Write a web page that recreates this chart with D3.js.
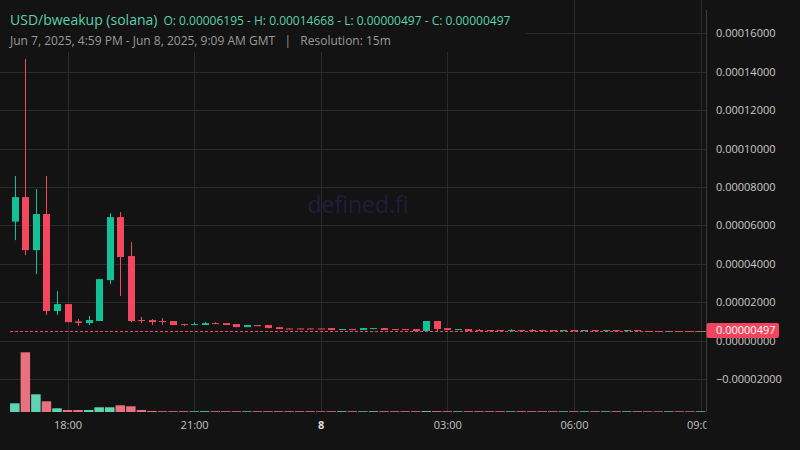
<!DOCTYPE html>
<html>
<head>
<meta charset="utf-8">
<script src="https://cdn.jsdelivr.net/npm/d3@7"></script>
<style>
  html, body { margin: 0; padding: 0; background: #131313; }
  svg { display: block; font-family: "Open Sans", "Noto Sans", sans-serif; }
</style>
</head>
<body>
<svg id="chart" width="800" height="450"></svg>
<script>
// ---------- DATA (prices in units of 1e-5 USD) ----------
const startTime = Date.UTC(2025, 5, 7, 16, 45);   // first 15m bar
const barMinutes = 15;

const openE5 = [6.195, 7.47, 4.71, 6.59, 1.54, 1.90, 1.00, 0.91, 1.02, 3.15,
  6.43, 4.40, 1.07, 1.07, 1.02, 1.02, 0.86, 0.81, 0.81, 0.91,
  0.91, 0.86, 0.70, 0.81, 0.81, 0.70, 0.63, 0.63, 0.63, 0.63,
  0.65, 0.55, 0.60, 0.55, 0.60, 0.65, 0.60, 0.60, 0.60, 0.50,
  1.02, 0.65, 0.55, 0.60, 0.55, 0.55, 0.55, 0.50, 0.55, 0.55,
  0.55, 0.55, 0.50, 0.55, 0.50, 0.55, 0.50, 0.55, 0.50, 0.55,
  0.499, 0.499, 0.497, 0.499, 0.499, 0.497];
const highE5 = [8.57, 14.668, 7.89, 8.57, 2.58, 1.90, 1.12, 1.28, 3.20, 6.64,
  6.69, 5.13, 1.23, 1.12, 1.17, 1.02, 0.86, 0.96, 0.96, 0.96,
  0.91, 0.86, 0.81, 0.81, 0.81, 0.70, 0.63, 0.63, 0.63, 0.63,
  0.65, 0.60, 0.60, 0.65, 0.65, 0.65, 0.60, 0.60, 0.60, 1.02,
  1.02, 0.65, 0.60, 0.60, 0.60, 0.55, 0.55, 0.58, 0.55, 0.60,
  0.55, 0.55, 0.55, 0.55, 0.55, 0.55, 0.55, 0.55, 0.55, 0.55,
  0.499, 0.499, 0.499, 0.499, 0.499, 0.499];
const lowE5 = [5.23, 4.45, 3.46, 1.33, 1.33, 0.96, 0.77, 0.81, 1.02, 2.94,
  2.32, 0.96, 0.91, 0.81, 0.81, 0.81, 0.75, 0.81, 0.81, 0.86,
  0.81, 0.70, 0.70, 0.75, 0.65, 0.60, 0.60, 0.60, 0.60, 0.60,
  0.55, 0.55, 0.55, 0.55, 0.60, 0.55, 0.55, 0.55, 0.50, 0.50,
  0.50, 0.55, 0.55, 0.50, 0.50, 0.50, 0.50, 0.50, 0.50, 0.50,
  0.50, 0.50, 0.50, 0.50, 0.50, 0.50, 0.50, 0.50, 0.50, 0.497,
  0.497, 0.497, 0.497, 0.497, 0.497, 0.497];
const closeE5 = [7.47, 4.71, 6.59, 1.54, 1.90, 0.96, 0.92, 1.07, 3.20, 6.43,
  4.35, 1.02, 1.04, 0.96, 1.00, 0.81, 0.81, 0.86, 0.91, 0.86,
  0.81, 0.70, 0.81, 0.75, 0.65, 0.60, 0.60, 0.60, 0.60, 0.60,
  0.55, 0.60, 0.55, 0.65, 0.65, 0.55, 0.55, 0.55, 0.50, 1.02,
  0.60, 0.55, 0.60, 0.50, 0.50, 0.50, 0.50, 0.55, 0.50, 0.50,
  0.50, 0.50, 0.55, 0.50, 0.55, 0.50, 0.55, 0.50, 0.55, 0.497,
  0.497, 0.497, 0.499, 0.497, 0.497, 0.499];
const volume = [870, 5970, 1770, 1070, 370, 200, 200, 200, 470, 470,
  670, 570, 200, 100, 80, 80, 80, 70, 80, 80,
  80, 80, 70, 80, 80, 80, 80, 80, 80, 70,
  80, 80, 80, 70, 80, 80, 80, 80, 80, 90,
  90, 80, 70, 80, 80, 80, 80, 70, 80, 80,
  80, 80, 70, 80, 70, 80, 70, 80, 70, 80,
  70, 70, 70, 70, 70, 70];

const yTickValuesE5 = [-2, 0, 2, 4, 6, 8, 10, 12, 14, 16];
const xTickTimes = [Date.UTC(2025,5,7,18), Date.UTC(2025,5,7,21), Date.UTC(2025,5,8,0),
                    Date.UTC(2025,5,8,3), Date.UTC(2025,5,8,6), Date.UTC(2025,5,8,9)];
const xTickLabels = ["18:00", "21:00", "8", "03:00", "06:00", "09:00"];
const lastPriceE5 = 0.497;

const titleMain = "USD/bweakup (solana)";
const titleOHLC = "O: 0.00006195 - H: 0.00014668 - L: 0.00000497 - C: 0.00000497";
const titleSub = "Jun 7, 2025, 4:59 PM - Jun 8, 2025, 9:09 AM GMT   |   Resolution: 15m";
const watermark = "defined.fi";

// ---------- LAYOUT ----------
const W = 800, H = 450;
const plotRight = 706.5, plotBottom = 412;
const UP = "#12c197", DOWN = "#f2475e";
const UPV = "#5ed4b4", DOWNV = "#e9707f";
const GRID = "#2b2b2b";

const bars = openE5.map((o, i) => ({
  t: new Date(startTime + i * barMinutes * 60000),
  o, h: highE5[i], l: lowE5[i], c: closeE5[i], v: volume[i]
}));

const svg = d3.select("#chart");
svg.append("rect").attr("width", W).attr("height", H).attr("fill", "#131313");

const x = d3.scaleUtc()
  .domain([bars[0].t, bars[bars.length - 1].t])
  .range([14.8, 700.5]);
const y = d3.scaleLinear().domain([-2, 16]).range([379.0, 33.3]);
const yv = d3.scaleLinear().domain([0, d3.max(volume)]).range([plotBottom, 352.3]);

// gridlines
const grid = svg.append("g");
grid.selectAll("line.h").data(yTickValuesE5).join("line")
  .attr("x1", 0).attr("x2", plotRight).attr("y1", d => Math.round(y(d)) + 0.5).attr("y2", d => Math.round(y(d)) + 0.5)
  .attr("stroke", GRID).attr("stroke-width", 1);
grid.selectAll("line.v").data(xTickTimes).join("line")
  .attr("x1", d => Math.round(x(d)) + 0.5).attr("x2", d => Math.round(x(d)) + 0.5)
  .attr("y1", 0).attr("y2", plotBottom)
  .attr("stroke", GRID).attr("stroke-width", 1);

// watermark
svg.append("text").attr("x", 358).attr("y", 213).attr("text-anchor", "middle")
  .attr("font-size", 23).attr("fill", "#1f1e3c").text(watermark);

// volume
svg.append("g").selectAll("rect").data(bars).join("rect")
  .attr("x", d => x(d.t) - 4.75).attr("width", 9.5)
  .attr("y", d => yv(d.v)).attr("height", d => plotBottom - yv(d.v))
  .attr("fill", d => d.c >= d.o ? UPV : DOWNV);

// candles
const cg = svg.append("g").selectAll("g").data(bars).join("g");
cg.append("line")
  .attr("x1", d => Math.round(x(d.t)) + 0.5).attr("x2", d => Math.round(x(d.t)) + 0.5)
  .attr("y1", d => y(d.h)).attr("y2", d => y(d.l))
  .attr("stroke", d => d.c >= d.o ? UP : DOWN).attr("stroke-width", 1);
cg.append("rect")
  .attr("x", d => Math.round(x(d.t)) - 3).attr("width", 7)
  .attr("y", d => y(Math.max(d.o, d.c)))
  .attr("height", d => Math.max(1, Math.abs(y(d.o) - y(d.c))))
  .attr("fill", d => d.c >= d.o ? UP : DOWN);

// last price dashed line
svg.append("line").attr("x1", 10).attr("x2", plotRight)
  .attr("y1", Math.round(y(lastPriceE5)) + 0.5).attr("y2", Math.round(y(lastPriceE5)) + 0.5)
  .attr("stroke", DOWN).attr("stroke-width", 1).attr("stroke-dasharray", "3,2");

// legend box
svg.append("rect").attr("x", 0).attr("y", 0).attr("width", 526).attr("height", 52).attr("fill", "#131313");
const t1 = svg.append("text").attr("x", 10).attr("y", 25).attr("fill", "#5cd0b0");
t1.append("tspan").attr("font-size", 14).text(titleMain);
t1.append("tspan").attr("font-size", 12).attr("dx", 6).text(titleOHLC);
svg.append("text").attr("x", 10).attr("y", 45).attr("fill", "#9a9a9a").attr("font-size", 12)
  .attr("xml:space", "preserve").style("white-space", "pre").text(titleSub);

// right price axis
svg.append("line").attr("x1", plotRight).attr("x2", plotRight).attr("y1", 10).attr("y2", plotBottom)
  .attr("stroke", "#3a3a3a");
const yAxis = d3.axisRight(y).tickValues(yTickValuesE5).tickSize(0).tickPadding(9.5)
  .tickFormat(d => (d < 0 ? "\u2212" : "") + (Math.abs(d) * 1e-5).toFixed(8));
const ya = svg.append("g").attr("transform", `translate(${plotRight},0)`).call(yAxis);
ya.select(".domain").remove();
ya.selectAll("text").attr("fill", "#c9c9c9").attr("font-size", 11).attr("font-family", '"Open Sans", sans-serif');

// last price label
const lp = svg.append("g");
lp.append("rect").attr("x", plotRight).attr("y", 323).attr("width", 72.5).attr("height", 15).attr("rx", 2)
  .attr("fill", "#f0455d");
lp.append("text").attr("x", 716).attr("y", Math.round(y(lastPriceE5)) - 0.5).attr("dy", "0.32em")
  .attr("fill", "#ffffff").attr("font-size", 11).text((lastPriceE5 * 1e-5).toFixed(8));

// bottom time axis
svg.append("clipPath").attr("id", "xclip").append("rect")
  .attr("x", 0).attr("y", plotBottom).attr("width", plotRight).attr("height", H - plotBottom);
const xAxis = d3.axisBottom(x).tickValues(xTickTimes.map(t => new Date(t))).tickSize(0).tickPadding(9)
  .tickFormat((d, i) => xTickLabels[i]);
const xa = svg.append("g").attr("clip-path", "url(#xclip)")
  .append("g").attr("transform", `translate(0,${plotBottom})`).call(xAxis);
xa.select(".domain").remove();
xa.selectAll("text").attr("fill", "#c3c3c3").attr("font-size", 11).attr("font-family", '"Open Sans", sans-serif')
  .attr("font-weight", (d, i) => xTickLabels[i] === "8" ? "bold" : null)
  .attr("fill", (d, i) => xTickLabels[i] === "8" ? "#dedede" : "#c3c3c3");
</script>
</body>
</html>
